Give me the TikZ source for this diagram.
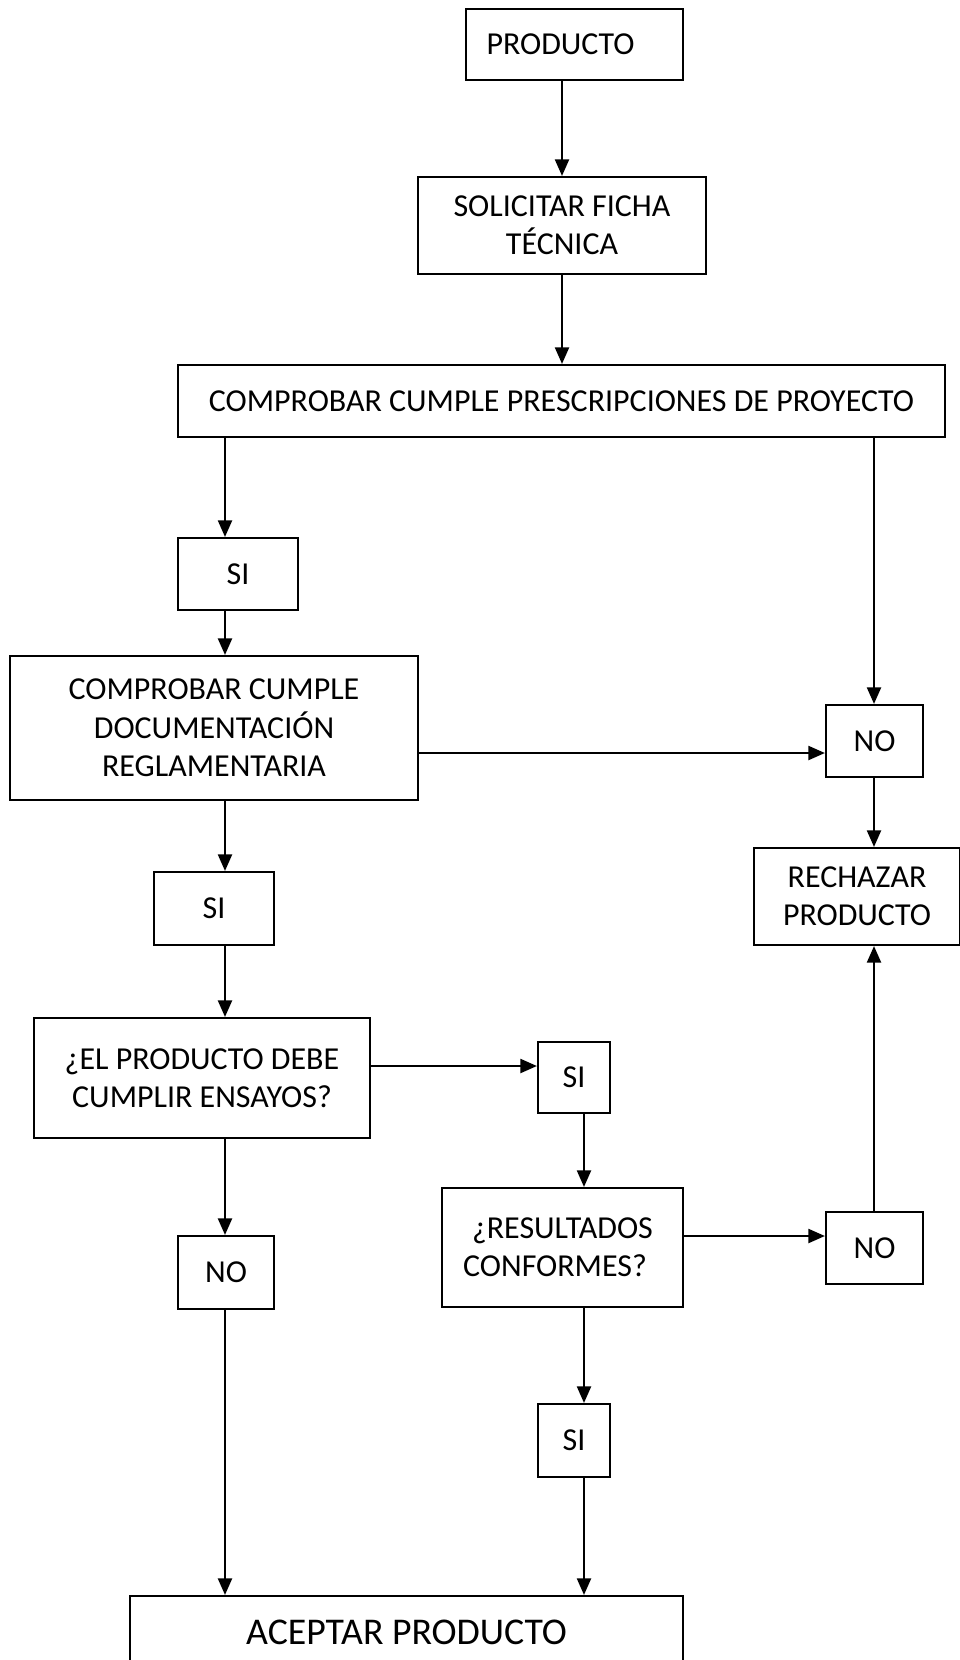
\documentclass[tikz,border=0pt]{standalone}
\usepackage{fontspec}
\setmainfont{Carlito}
\usepackage{tikz}
\usetikzlibrary{arrows.meta,calc}

\begin{document}
\begin{tikzpicture}[x=0.02cm,y=-0.02cm,
  box/.style={draw,line width=1.2pt,inner sep=0pt,align=center,
    font=\fontsize{18.2}{21.8}\selectfont},
  arr/.style={-{Triangle[length=9.5pt,width=8pt]},line width=1.3pt}]
\useasboundingbox (0,0) rectangle (960,1660);
% boxes
\node[box,minimum width=4.34cm,minimum height=1.42cm] (prod) at (574.5,44.5) {PRODUCTO\hspace*{0.56cm}};
\node[box,minimum width=5.76cm,minimum height=1.94cm] (ficha) at (562,225.5) {SOLICITAR FICHA\\TÉCNICA};
\node[box,minimum width=15.34cm,minimum height=1.44cm] (presc) at (561.5,401) {COMPROBAR CUMPLE PRESCRIPCIONES DE PROYECTO};
\node[box,minimum width=2.4cm,minimum height=1.44cm] (si1) at (238,574) {SI};
\node[box,minimum width=8.16cm,minimum height=2.88cm] (docu) at (214,728) {COMPROBAR CUMPLE\\DOCUMENTACIÓN\\REGLAMENTARIA};
\node[box,minimum width=1.94cm,minimum height=1.44cm] (no1) at (874.5,741) {NO};
\node[box,minimum width=4.12cm,minimum height=1.94cm] (rech) at (857,896.5) {RECHAZAR\\PRODUCTO};
\node[box,minimum width=2.4cm,minimum height=1.46cm] (si2) at (214,908.5) {SI};
\node[box,minimum width=6.72cm,minimum height=2.4cm] (ensayos) at (202,1078) {¿EL PRODUCTO DEBE\\CUMPLIR ENSAYOS?};
\node[box,minimum width=1.44cm,minimum height=1.42cm] (si3) at (574,1077.5) {SI};
\node[box,minimum width=4.82cm,minimum height=2.38cm] (result) at (562.5,1247.5) {¿RESULTADOS\\CONFORMES?\hspace*{0.3cm}};
\node[box,minimum width=1.94cm,minimum height=1.44cm] (no3) at (874.5,1248) {NO};
\node[box,minimum width=1.92cm,minimum height=1.46cm] (no2) at (226,1272.5) {NO};
\node[box,minimum width=1.44cm,minimum height=1.46cm] (si4) at (574,1440.5) {SI};
\node[box,minimum width=11.06cm,minimum height=1.44cm,font=\fontsize{21.5}{25}\selectfont] (acept) at (406.5,1632) {ACEPTAR PRODUCTO};
% columns and rows of the connectors
\coordinate (lcol) at (225,0);
\coordinate (mcol) at (584,0);
\coordinate (rcol) at (874,0);
\coordinate (row1) at (0,753);
\coordinate (row2) at (0,1066);
\coordinate (row3) at (0,1236);
% connectors
\draw[arr] (prod.south -| ficha.north) -- (ficha.north);
\draw[arr] (ficha.south) -- (ficha.south |- presc.north);
\draw[arr] (presc.south -| lcol) -- (si1.north -| lcol);
\draw[arr] (si1.south -| lcol) -- (docu.north -| lcol);
\draw[arr] (docu.south -| lcol) -- (si2.north -| lcol);
\draw[arr] (si2.south -| lcol) -- (ensayos.north -| lcol);
\draw[arr] (ensayos.south -| lcol) -- (no2.north -| lcol);
\draw[arr] (no2.south -| lcol) -- (acept.north -| lcol);
\draw[arr] (presc.south -| rcol) -- (no1.north -| rcol);
\draw[arr] (no1.south -| rcol) -- (rech.north -| rcol);
\draw[arr] (no3.north -| rcol) -- (rech.south -| rcol);
\draw[arr] (si3.south -| mcol) -- (result.north -| mcol);
\draw[arr] (result.south -| mcol) -- (si4.north -| mcol);
\draw[arr] (si4.south -| mcol) -- (acept.north -| mcol);
\draw[arr] (docu.east |- row1) -- (no1.west |- row1);
\draw[arr] (ensayos.east |- row2) -- (si3.west |- row2);
\draw[arr] (result.east |- row3) -- (no3.west |- row3);
\end{tikzpicture}
\end{document}
